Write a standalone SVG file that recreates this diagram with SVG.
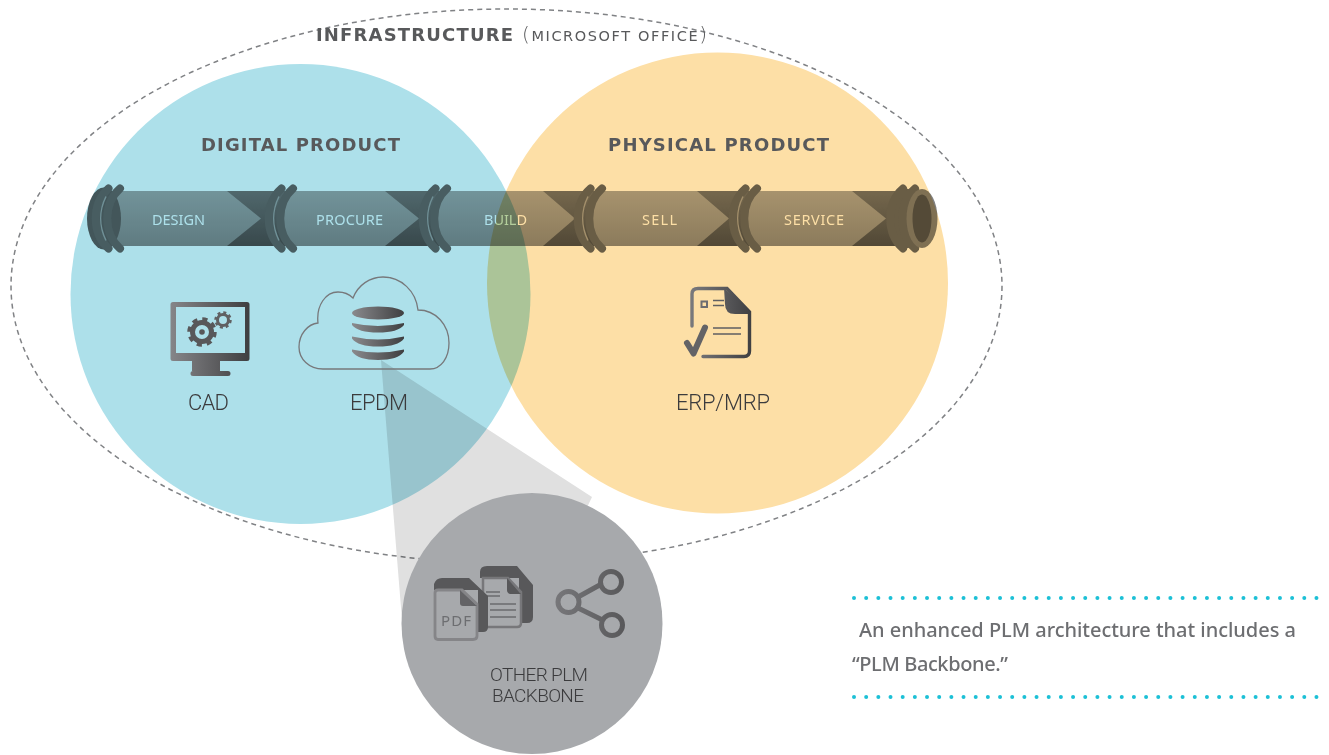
<svg xmlns="http://www.w3.org/2000/svg" xmlns:xlink="http://www.w3.org/1999/xlink" width="1329" height="755" viewBox="0 0 1329 755">
<style>
.mul{mix-blend-mode:multiply}
.h{font-family:"DejaVu Sans",sans-serif;font-weight:700;fill:#58595b;font-size:18px}
.sm{font-family:"DejaVu Sans",sans-serif;fill:#58595b;font-size:14.5px}
.p{font-family:"Noto Sans",sans-serif;font-size:14.5px;text-anchor:start}
.l{font-family:Roboto,sans-serif;font-weight:300;fill:#3b3b3d;font-size:22px}
.o{font-family:Roboto,sans-serif;font-weight:300;fill:#3b3b3d;font-size:19px}
.c{font-family:"Noto Sans",sans-serif;fill:#6d6e71;font-size:20px;font-weight:500}
.ic{fill:url(#ig)}
.cr{fill:none;stroke:#6a6a6a;stroke-width:8;stroke-linecap:round}
.dots{fill:none;stroke:#1cc0d6;stroke-width:4;stroke-linecap:round;stroke-dasharray:0 12.17}
</style>
<defs>
<linearGradient id="ig" x1="0" x2="1" y1="0" y2="0"><stop offset="0" stop-color="#8a8a8d"/><stop offset="1" stop-color="#3f3f41"/></linearGradient>
<linearGradient id="ig2" gradientUnits="userSpaceOnUse" x1="171" x2="249" y1="0" y2="0"><stop offset="0" stop-color="#858588"/><stop offset="1" stop-color="#3f3f41"/></linearGradient>
<linearGradient id="ig3" gradientUnits="userSpaceOnUse" x1="433" x2="535" y1="0" y2="0"><stop offset="0" stop-color="#8a8a8d"/><stop offset=".45" stop-color="#4a4a4c"/><stop offset=".5" stop-color="#8a8a8d"/><stop offset="1" stop-color="#3f3f41"/></linearGradient>
<linearGradient id="ig4" gradientUnits="userSpaceOnUse" x1="555" x2="626" y1="0" y2="0"><stop offset="0" stop-color="#77777a"/><stop offset="1" stop-color="#58585a"/></linearGradient>
<linearGradient id="ig5" gradientUnits="userSpaceOnUse" x1="684" x2="752" y1="0" y2="0"><stop offset="0" stop-color="#808083"/><stop offset="1" stop-color="#3f3f41"/></linearGradient>
<linearGradient id="body" x1="0" x2="0" y1="0" y2="1"><stop offset="0" stop-color="#a8a8a8"/><stop offset="1" stop-color="#8c8c8c"/></linearGradient>
<linearGradient id="dark" x1="0" x2="0" y1="0" y2="1"><stop offset="0" stop-color="#767676"/><stop offset="1" stop-color="#525252"/></linearGradient>
<linearGradient id="bt" gradientUnits="userSpaceOnUse" x1="484" x2="528" y1="0" y2="0">
<stop offset=".27" stop-color="#ade0ea"/><stop offset=".27" stop-color="#b4cf9c"/><stop offset=".78" stop-color="#b4cf9c"/><stop offset=".78" stop-color="#fddfa6"/></linearGradient>
<g id="collar">
<path class="cr" d="M-11.500 -30C-28.500 -15 -28.500 15 -11.500 30"/>
<path class="cr" d="M0 -30C-17 -15 -17 15 0 30"/>
<path d="M-14 -22C-21 -8 -21 8 -14 22" fill="none" stroke="#a4a4a4" stroke-width="1.500"/>
</g>
</defs>
<rect width="1329" height="755" fill="#fff"/>
<ellipse cx="506.500" cy="286" rx="495.500" ry="277" fill="none" stroke="#808285" stroke-width="1.500" stroke-dasharray="5 4"/>
<g id="digital-product-circle"><circle cx="300.500" cy="294" r="230" fill="#ade0ea"/></g>
<g id="physical-product-circle" class="mul"><circle cx="717.500" cy="283" r="230.500" fill="#fddfa6"/></g>
<g id="connectors" class="mul"><polygon points="381,360 592,497 532,623 402,620" fill="#e0e0e0"/></g>
<g id="pipe" class="mul">
<rect x="105" y="191" width="812" height="55" fill="url(#dark)"/>
<path d="M120 191H227L261 218.500L227 246H120Q96 218.500 120 191Z" fill="url(#body)"/>
<path d="M293 191H385L419 218.500L385 246H293Q269 218.500 293 191Z" fill="url(#body)"/>
<path d="M447 191H543L575 218.500L543 246H447Q423 218.500 447 191Z" fill="url(#body)"/>
<path d="M602 191H697L729 218.500L697 246H602Q578 218.500 602 191Z" fill="url(#body)"/>
<path d="M757 191H852L886 218.500L852 246H757Q733 218.500 757 191Z" fill="url(#body)"/>
<ellipse cx="104" cy="218.500" rx="17" ry="31" fill="#626262"/>
<use href="#collar" x="120" y="218.500"/>
<use href="#collar" x="293" y="218.500"/>
<use href="#collar" x="447" y="218.500"/>
<use href="#collar" x="602" y="218.500"/>
<use href="#collar" x="757" y="218.500"/>
<ellipse cx="905" cy="218.500" rx="17" ry="30" fill="#6a6a6a"/>
<path class="cr" d="M905 -30" />
<path d="M903 188.500C886 203 886 234 903 248.500" class="cr"/>
<path d="M915 188.500C898 203 898 234 915 248.500" class="cr"/>
<ellipse cx="922" cy="218.500" rx="15.500" ry="29.500" fill="#808080"/>
<ellipse cx="922" cy="218.500" rx="9.500" ry="24" fill="#545454"/>
</g>
<g id="pipe-labels">
<text class="p" x="152" y="225" fill="#ade0ea" textLength="53">DESIGN</text>
<text class="p" x="316" y="225" fill="#ade0ea" textLength="67">PROCURE</text>
<text class="p" x="484" y="225" fill="url(#bt)" textLength="43">BUILD</text>
<text class="p" x="642" y="225" fill="#fddfa6" textLength="35">SELL</text>
<text class="p" x="784" y="225" fill="#fddfa6" textLength="60">SERVICE</text>
</g>
<g id="infrastructure">
<text class="h" x="316" y="41" textLength="197">INFRASTRUCTURE</text>
<text class="sm" x="522" y="41" textLength="185"><tspan font-size="20" font-weight="300">(</tspan>MICROSOFT OFFICE<tspan font-size="20" font-weight="300">)</tspan></text>
</g>
<g id="digital-product"><text class="h" x="201" y="151" textLength="199">DIGITAL PRODUCT</text></g>
<g id="physical-product"><text class="h" x="608" y="151" textLength="221">PHYSICAL PRODUCT</text></g>
<g id="cad">
<path fill="url(#ig2)" fill-rule="evenodd" d="M173 302H247Q249.500 302 249.500 304.500V358.500Q249.500 361 247 361H220V371H228Q230.500 371 230.500 373.500T228 376H193Q190.500 376 190.500 373.500T193 371H192V361H173Q170.500 361 170.500 358.500V304.500Q170.500 302 173 302ZM176 307V353H245V307Z"/>
<g fill="none" stroke="#58585a">
<circle cx="202" cy="332" r="9.500" stroke-width="5"/>
<circle cx="202" cy="332" r="12.500" stroke-width="4.500" stroke-dasharray="5 4.800"/>
<circle cx="223" cy="320" r="5.500" stroke-width="3" stroke="#606062"/>
<circle cx="223" cy="320" r="7.500" stroke-width="2.500" stroke="#606062" stroke-dasharray="3 2.900"/>
</g>
<circle cx="202" cy="332" r="2.800" fill="#58585a"/>
<text class="l" x="188" y="410" textLength="41">CAD</text>
</g>
<g id="epdm">
<path d="M323 369C309 369 299 359 299 347C299 334 308 324 318 323C316 305 326 292 338 292C344 292 349 294 353 298C358 285 370 277 383 277C401 277 416 291 418 310C436 310 449 325 449 343C449 358 441 369 430 369Z" fill="none" stroke="#77787b" stroke-width="1.300"/>
<ellipse cx="378" cy="313" rx="26" ry="6.500" fill="url(#ig)"/>
<path class="ic" d="M352 323Q378 329 404 323V325Q398 332.500 378 332.500T352 325Z"/>
<path class="ic" d="M352 336.500Q378 342.500 404 336.500V338.500Q398 346.500 378 346.500T352 338.500Z"/>
<path class="ic" d="M352 349.500Q378 355.500 404 349.500V351.500Q398 360 378 360T352 351.500Z"/>
<text class="l" x="350" y="410" textLength="58">EPDM</text>
</g>
<g id="erp-mrp">
<path d="M692 326V294Q692 288.500 698 288.500H727L749.500 312V351Q749.500 356.500 744 356.500H703" fill="none" stroke="url(#ig5)" stroke-width="3.400" stroke-linecap="round"/>
<path d="M724 288L751 312V314H735Q725 314 725 304Z" fill="url(#ig5)"/>
<rect x="701.500" y="301.500" width="5.500" height="5.500" fill="none" stroke="#6d6d70" stroke-width="2"/>
<path d="M713 300.500H724M713 305.500H724M713 328H741M713 334H741" fill="none" stroke="#5f5f62" stroke-width="1.700"/>
<path d="M687 343L693.500 353.500L705 327.500" fill="none" stroke="#636366" stroke-width="6" stroke-linecap="round" stroke-linejoin="round"/>
<text class="l" x="676" y="410" textLength="94">ERP/MRP</text>
</g>
<g id="other-plm-backbone">
<circle cx="532" cy="623.500" r="130.500" fill="#a7a9ac"/>
<path d="M487 566H517L533 585V617Q533 623 527 623H519V578H480V572Q480 566 487 566Z" fill="#58585a"/>
<path d="M483 578H508L521 592V623Q521 627 517 627H483Z" fill="#a7a9ac" stroke="#77777a" stroke-width="2.500"/>
<path d="M507 578V590Q507 593 510 594H521Z" fill="#58585a"/>
<path d="M486 592H500M486 596H500M490 604H516M490 610H516M490 617H516" stroke="#6b6b6e" stroke-width="1.500" fill="none"/>
<path d="M442 578H469L488 596V627Q488 632 483 632H478V590H434V584Q436 578 442 578Z" fill="#58585a"/>
<path d="M438 590H462L477 604V636Q477 639.500 473 639.500H438Q435 639.500 435 636V593Q435 590 438 590Z" fill="#a7a9ac" stroke="#858588" stroke-width="2.800"/>
<path d="M460 590V603Q460 606 463 606H477Z" fill="#636366"/>
<text x="441" y="626" font-family="Noto Sans,sans-serif" font-size="15" fill="#6d6e71" textLength="30">PDF</text>
<g fill="none" stroke="url(#ig4)" stroke-width="5">
<circle cx="611" cy="582" r="10.500"/><circle cx="568.500" cy="602" r="10.500"/><circle cx="612" cy="625" r="10.500"/>
<path d="M578 597L601.500 584M578 608L602.500 620"/>
</g>
<text class="o" x="490" y="681" textLength="98">OTHER PLM</text>
<text class="o" x="492" y="702" textLength="92">BACKBONE</text>
</g>
<g id="caption">
<path class="dots" d="M854 598H1320"/>
<text class="c" x="859" y="637" textLength="437">An enhanced PLM architecture that includes a</text>
<text class="c" x="852" y="671" textLength="156">“PLM Backbone.”</text>
<path class="dots" d="M854 697H1320"/>
</g>
</svg>
